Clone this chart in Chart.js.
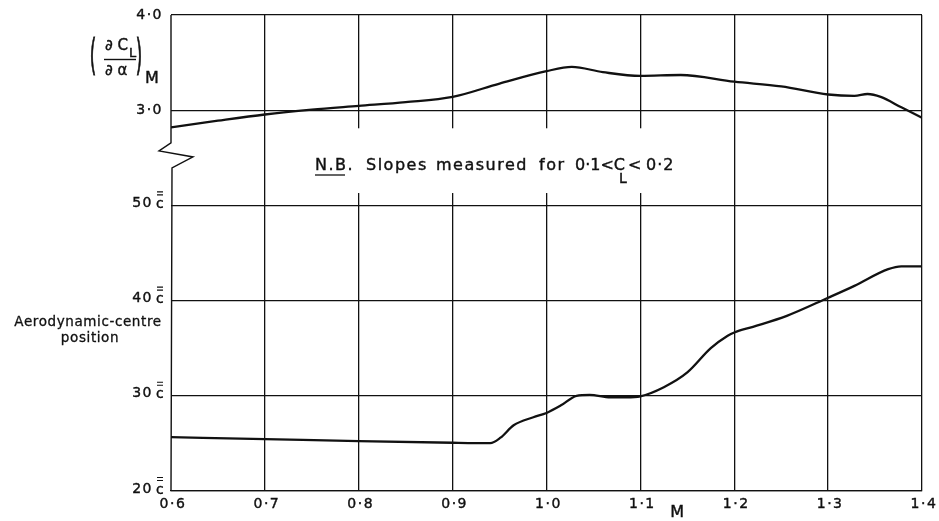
<!DOCTYPE html>
<html>
<head>
<meta charset="utf-8">
<title>Lift-curve slope and aerodynamic-centre position against Mach number</title>
<script src="https://cdn.jsdelivr.net/npm/chart.js@4/dist/chart.umd.min.js"></script>
<style>
  html, body { margin: 0; padding: 0; background: #fff; }
  #wrap { width: 939px; height: 521px; position: relative; }
</style>
</head>
<body>
<div id="wrap"><canvas id="machChart"></canvas></div>
<script>
// Lift-curve slope (dCL/dalpha) against Mach number
const liftSlopeMach = [0.6, 0.65, 0.7, 0.75, 0.8, 0.85, 0.9, 0.95, 1.0, 1.027, 1.06, 1.1, 1.143, 1.2, 1.25, 1.3, 1.328, 1.342, 1.356, 1.378, 1.4];
const liftSlopeValues = [2.82, 2.89, 2.955, 3.005, 3.045, 3.085, 3.14, 3.28, 3.41, 3.455, 3.40, 3.36, 3.37, 3.30, 3.25, 3.165, 3.15, 3.17, 3.14, 3.03, 2.92];

// Aerodynamic-centre position, per cent of mean chord
const acMach = [0.6, 0.7, 0.8, 0.9, 0.94, 0.951, 0.965, 0.986, 1.0, 1.015, 1.032, 1.046, 1.068, 1.085, 1.1, 1.125, 1.15, 1.175, 1.193, 1.2, 1.22, 1.256, 1.3, 1.328, 1.364, 1.378, 1.4];
const acValues = [25.65, 25.45, 25.24, 25.07, 25.03, 25.6, 26.9, 27.75, 28.2, 28.97, 30.0, 30.1, 29.85, 29.85, 29.95, 30.9, 32.45, 35.0, 36.3, 36.65, 37.25, 38.4, 40.3, 41.55, 43.3, 43.6, 43.6];

// Tick labels
const machTicks = [0.6, 0.7, 0.8, 0.9, 1.0, 1.1, 1.2, 1.3, 1.4];
const machTickLabels = ['0·6', '0·7', '0·8', '0·9', '1·0', '1·1', '1·2', '1·3', '1·4'];
const acTicks = [20, 30, 40, 50];
const acTickLabels = ['20', '30', '40', '50'];
const slopeTicks = [3.0, 4.0];
const slopeTickLabels = ['3·0', '4·0'];

// the slope scale sits on top of the a.c. scale: 3.0 lines up with 60, 4.0 with 70
function slopeToAxis(v) {
    return 60 + (v - 3) * 10;
}

const INK = '#111';
const FONT = '"DejaVu Sans", sans-serif';

// lettering is a little heavier than the plain font
function letter(ctx, text, px, py) {
    ctx.fillText(text, px, py);
    ctx.strokeText(text, px, py);
}

// Hand-lettered labels, the broken axis and the note
const paperLabels = {
    id: 'paperLabels',
    afterDraw(chart) {
        const { ctx, scales: { x, y } } = chart;
        const left = x.getPixelForValue(0.6);
        ctx.save();
        ctx.fillStyle = INK;
        ctx.strokeStyle = INK;

        // left axis with the break between the two scales
        const mid = y.getPixelForValue(55.3);
        ctx.lineWidth = 1.4;
        ctx.beginPath();
        ctx.moveTo(left, y.getPixelForValue(70));
        ctx.lineTo(left, mid - 12);
        ctx.lineTo(left - 12, mid - 4);
        ctx.lineTo(left + 22, mid + 2);
        ctx.lineTo(left + 1, mid + 13);
        ctx.lineTo(left, y.getPixelForValue(20));
        ctx.stroke();

        ctx.lineWidth = 0.4;
        ctx.letterSpacing = '1.5px';

        // x tick labels
        ctx.font = '14px ' + FONT;
        ctx.textAlign = 'center';
        ctx.textBaseline = 'middle';
        machTicks.forEach((m, i) => {
            letter(ctx, machTickLabels[i], x.getPixelForValue(m) + 2, y.bottom + 13);
        });
        ctx.font = '16px ' + FONT;
        letter(ctx, 'M', x.getPixelForValue(1.14), y.bottom + 22);

        // slope tick labels
        ctx.font = '14px ' + FONT;
        ctx.textAlign = 'right';
        slopeTicks.forEach((s, i) => {
            letter(ctx, slopeTickLabels[i], left - 8, y.getPixelForValue(slopeToAxis(s)));
        });

        // a.c. tick labels, "c" with a double bar over it
        acTicks.forEach((v, i) => {
            const py = y.getPixelForValue(v) - 2;
            ctx.lineWidth = 0.4;
            ctx.textAlign = 'right';
            letter(ctx, acTickLabels[i], left - 18, py);
            ctx.textAlign = 'left';
            letter(ctx, 'c', left - 15, py + 1);
            ctx.lineWidth = 1.1;
            ctx.beginPath();
            ctx.moveTo(left - 14, py - 8.5);
            ctx.lineTo(left - 8, py - 8.5);
            ctx.moveTo(left - 14, py - 11.5);
            ctx.lineTo(left - 8, py - 11.5);
            ctx.stroke();
        });

        // axis titles
        ctx.lineWidth = 0.3;
        ctx.letterSpacing = '0.6px';
        ctx.textAlign = 'center';
        ctx.font = '13.5px ' + FONT;
        letter(ctx, 'Aerodynamic-centre', 88, 322);
        letter(ctx, 'position', 90, 338);

        // (dCL / dalpha) sub M
        ctx.letterSpacing = '0px';
        ctx.font = '30px ' + FONT;
        ctx.lineWidth = 0.8;
        [['(', 93], [')', 139]].forEach(([p, px]) => {
            ctx.save();
            ctx.translate(px, 59);
            ctx.scale(0.55, 1.45);
            letter(ctx, p, 0, 0);
            ctx.restore();
        });
        ctx.lineWidth = 0.4;
        ctx.font = '15px ' + FONT;
        ctx.textAlign = 'left';
        letter(ctx, '∂ C', 105, 46);
        ctx.font = '13px ' + FONT;
        letter(ctx, 'L', 129, 54);
        ctx.font = '15px ' + FONT;
        letter(ctx, '∂ α', 105, 71);
        ctx.font = '16px ' + FONT;
        letter(ctx, 'M', 145, 79);
        ctx.lineWidth = 1.4;
        ctx.beginPath();
        ctx.moveTo(104, 59.5);
        ctx.lineTo(136, 59.5);
        ctx.stroke();

        // note about the slopes, blanking the grid behind it
        ctx.fillStyle = '#fff';
        ctx.fillRect(x.getPixelForValue(0.76), y.getPixelForValue(58.1), x.getPixelForValue(1.145) - x.getPixelForValue(0.76), y.getPixelForValue(51.3) - y.getPixelForValue(58.1));
        ctx.fillStyle = INK;
        ctx.lineWidth = 0.4;
        ctx.font = '16px ' + FONT;
        ctx.letterSpacing = '1.5px';
        ctx.textBaseline = 'alphabetic';
        ctx.textAlign = 'left';
        const base = 170;
        letter(ctx, 'N.B.', 315, base);
        ctx.lineWidth = 1.3;
        ctx.beginPath();
        ctx.moveTo(315, base + 5);
        ctx.lineTo(345, base + 5);
        ctx.stroke();
        ctx.lineWidth = 0.4;
        letter(ctx, 'Slopes', 366, base);
        letter(ctx, 'measured', 436, base);
        letter(ctx, 'for', 539, base);
        ctx.letterSpacing = '0px';
        letter(ctx, '0·1<C', 575, base);
        letter(ctx, '<', 628, base);
        ctx.letterSpacing = '1px';
        letter(ctx, '0·2', 646, base);
        ctx.font = '14px ' + FONT;
        letter(ctx, 'L', 619, base + 13);
        ctx.restore();
    }
};

const machChart = new Chart(document.getElementById('machChart'), {
    type: 'line',
    data: {
        datasets: [
            {
                label: 'Lift-curve slope',
                data: liftSlopeMach.map((m, i) => ({ x: m, y: slopeToAxis(liftSlopeValues[i]) })),
                borderColor: INK,
                borderWidth: 2.3,
                pointRadius: 0,
                cubicInterpolationMode: 'monotone',
                fill: false
            },
            {
                label: 'Aerodynamic-centre position',
                data: acMach.map((m, i) => ({ x: m, y: acValues[i] })),
                borderColor: INK,
                borderWidth: 2.3,
                pointRadius: 0,
                cubicInterpolationMode: 'monotone',
                fill: false
            }
        ]
    },
    options: {
        responsive: true,
        maintainAspectRatio: false,
        animation: false,
        layout: { padding: { left: 171, right: 17, top: 15, bottom: 30 } },
        plugins: {
            legend: { display: false },
            tooltip: { enabled: false }
        },
        scales: {
            x: {
                type: 'linear',
                min: 0.6,
                max: 1.4,
                ticks: { stepSize: 0.1, display: false },
                grid: {
                    drawTicks: false,
                    lineWidth: 1.3,
                    color: (c) => (c.tick && Math.abs(c.tick.value - 0.6) < 1e-6 ? 'rgba(0,0,0,0)' : INK)
                },
                border: { display: true, color: INK, width: 1.3 }
            },
            y: {
                min: 20,
                max: 70,
                ticks: { stepSize: 10, display: false },
                grid: { drawTicks: false, lineWidth: 1.3, color: INK },
                border: { display: false }
            }
        }
    },
    plugins: [paperLabels]
});
</script>
</body>
</html>
